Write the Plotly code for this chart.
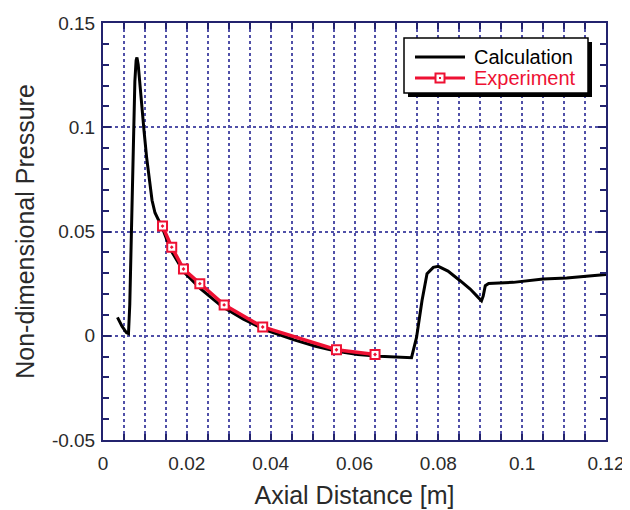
import plotly.graph_objects as go

calc_x = [0.00345, 0.00456, 0.00558, 0.00608, 0.00639, 0.00669, 0.0070, 0.0073, 0.0076, 0.0079, 0.0081, 0.0084,
          0.0088, 0.0092, 0.0098, 0.0104, 0.0111, 0.0117, 0.0124, 0.0132, 0.0142, 0.0162, 0.0193,
          0.0233, 0.0284, 0.0335, 0.0385, 0.0456, 0.0507, 0.0558, 0.0608, 0.0659, 0.0710, 0.0736,
          0.0748, 0.0761, 0.0773, 0.0788, 0.0800, 0.0823, 0.0852, 0.0876, 0.0895, 0.0903, 0.0907,
          0.0912, 0.0920, 0.0979, 0.1050, 0.1106, 0.1200]
calc_y = [0.0088, 0.0045, 0.0015, 0.0010, 0.0150, 0.0400, 0.0700, 0.0980, 0.1220, 0.1320, 0.1335, 0.1300,
          0.1200, 0.1100, 0.0980, 0.0857, 0.0740, 0.0650, 0.0590, 0.0560, 0.0515, 0.0410, 0.0305,
          0.0225, 0.0140, 0.0080, 0.0030, -0.0020, -0.0050, -0.0075, -0.0090, -0.0098, -0.0105, -0.0105,
          -0.0008, 0.0168, 0.0297, 0.0328, 0.0333, 0.0310, 0.0264, 0.0224, 0.0184, 0.0168, 0.0190,
          0.0240, 0.0251, 0.0256, 0.0272, 0.0277, 0.0294]

exp_x = [0.0142, 0.0164, 0.0192, 0.0231, 0.0289, 0.0381, 0.0557, 0.0649]
exp_y = [0.0526, 0.0425, 0.0320, 0.0250, 0.0148, 0.0042, -0.0067, -0.0090]

series_names = ["Calculation", "Experiment"]

x_tickvals = [round(i * 0.005, 3) for i in range(25)]
x_ticktext = [("0" if i == 0 else f"{i*0.005:g}") if i % 4 == 0 else "" for i in range(25)]
y_tickvals = [-0.05, 0, 0.05, 0.1, 0.15]
y_ticktext = ["-0.05", "0", "0.05", "0.1", "0.15"]

axis_col = "#23236e"
grid_col = "#5050a8"
red = "#ee1133"
FONT = "Liberation Sans, Arial, sans-serif"

# page body has an 8px default margin; figure is sized to fit the 630x510 window
OFF = 8
W, H = 630 - OFF, 510 - OFF
# plot area in window pixels
L, R, T, B = 103, 606, 23, 440
def px(x):
    return (x - L) / (R - L)
def py(y):
    return (B - y) / (B - T)

fig = go.Figure()
fig.add_trace(go.Scatter(x=calc_x, y=calc_y, mode="lines", name=series_names[0],
                         line=dict(color="black", width=3), showlegend=False))
fig.add_trace(go.Scatter(x=exp_x, y=exp_y, mode="lines+markers", name=series_names[1],
                         line=dict(color=red, width=3.5), showlegend=False,
                         marker=dict(symbol="square-dot", size=9, color="white",
                                     line=dict(color=red, width=2))))

fig.update_layout(
    width=W, height=H,
    margin=dict(l=L - OFF, r=W - (R - OFF), t=T - OFF, b=H - (B - OFF), pad=0),
    paper_bgcolor="white", plot_bgcolor="white",
    font=dict(family=FONT, color="#2a2a2a"),
    showlegend=False,
    xaxis=dict(range=[0, 0.12], tickvals=x_tickvals, ticktext=x_ticktext,
               showgrid=True, gridcolor=grid_col, griddash="dot", gridwidth=1.5,
               ticks="inside", ticklen=6, tickcolor=axis_col, tickwidth=1.5,
               showline=True, linecolor=axis_col, linewidth=2, mirror="ticks",
               zeroline=False, tickfont=dict(size=19), automargin=False,
               ticklabelstandoff=5, ticklabeloverflow="allow",
               title=dict(text="Axial Distance [m]", font=dict(size=25), standoff=14)),
    yaxis=dict(range=[-0.05, 0.15], tickvals=y_tickvals, ticktext=y_ticktext,
               showgrid=True, gridcolor=grid_col, griddash="dot", gridwidth=1.5,
               ticks="inside", ticklen=8, tickcolor=axis_col, tickwidth=1.5,
               minor=dict(dtick=0.01, ticks="inside", ticklen=6, tickcolor=axis_col, showgrid=False),
               showline=True, linecolor=axis_col, linewidth=2, mirror="ticks",
               zeroline=False, tickfont=dict(size=19), automargin=False,
               ticklabelstandoff=2, ticklabeloverflow="allow",
               title=dict(text="Non-dimensional Pressure", font=dict(size=25), standoff=10)),
)

# legend: shadow, box, samples and labels
fig.add_shape(type="rect", xref="paper", yref="paper",
              x0=px(408), x1=px(592), y0=py(97), y1=py(42),
              fillcolor="black", line=dict(width=0), layer="above")
fig.add_shape(type="rect", xref="paper", yref="paper",
              x0=px(404), x1=px(588), y0=py(93), y1=py(38),
              fillcolor="white", line=dict(color="black", width=1.5), layer="above")
fig.add_shape(type="line", xref="paper", yref="paper",
              x0=px(415), x1=px(465), y0=py(57), y1=py(57),
              line=dict(color="black", width=3), layer="above")
fig.add_shape(type="line", xref="paper", yref="paper",
              x0=px(415), x1=px(465), y0=py(78), y1=py(78),
              line=dict(color=red, width=3), layer="above")
fig.add_shape(type="rect", xref="paper", yref="paper",
              x0=px(435.5), x1=px(444.5), y0=py(82.5), y1=py(73.5),
              fillcolor="white", line=dict(color=red, width=2), layer="above")
fig.add_shape(type="rect", xref="paper", yref="paper",
              x0=px(439), x1=px(441), y0=py(79), y1=py(77),
              fillcolor=red, line=dict(width=0), layer="above")
fig.add_annotation(x=px(472), y=py(57), xref="paper", yref="paper", xanchor="left", yanchor="middle",
                   text=series_names[0], showarrow=False, font=dict(size=20, color="black"))
fig.add_annotation(x=px(472), y=py(78), xref="paper", yref="paper", xanchor="left", yanchor="middle",
                   text=series_names[1], showarrow=False, font=dict(size=20, color=red))

fig.write_html("out.html")
